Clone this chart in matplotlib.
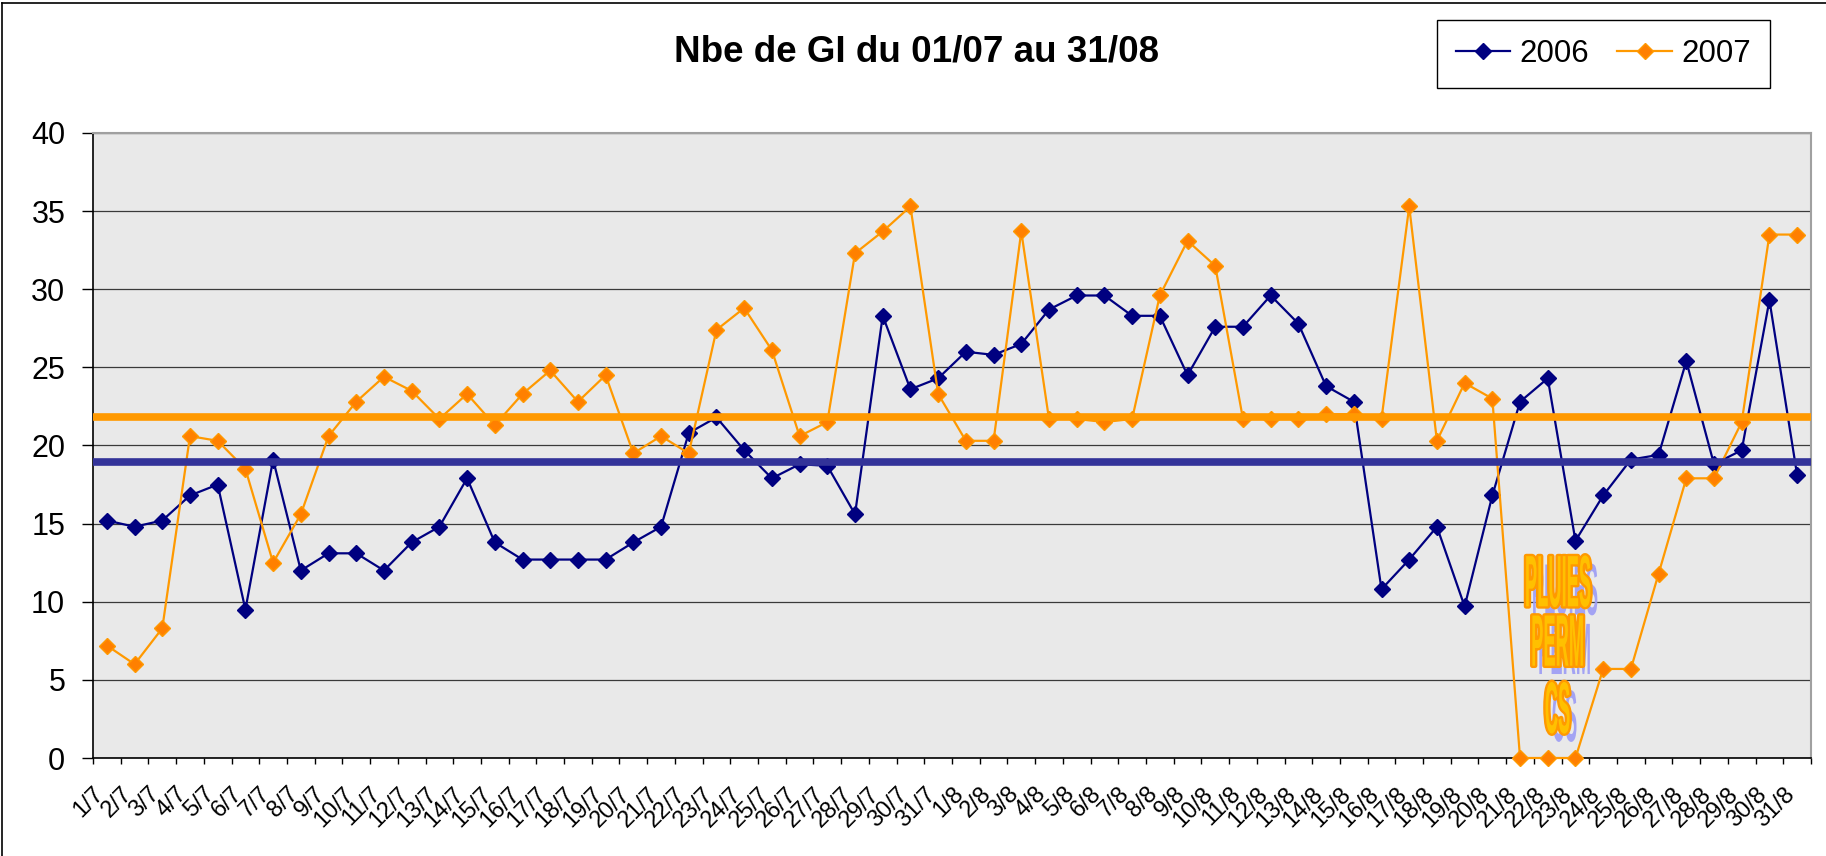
import numpy as np
import matplotlib
matplotlib.use('Agg')
import matplotlib.pyplot as plt
from matplotlib import patheffects as pe
from matplotlib.transforms import Affine2D
from matplotlib.lines import Line2D

plt.rcParams['font.family'] = ['Liberation Sans', 'DejaVu Sans']

# ---------------- data ----------------
days = [f"{d}/7" for d in range(1, 32)] + [f"{d}/8" for d in range(1, 32)]

nb_2006 = [15.2, 14.8, 15.2, 16.8, 17.5, 9.5, 19.1, 12.0, 13.1, 13.1,
           12.0, 13.8, 14.8, 17.9, 13.8, 12.7, 12.7, 12.7, 12.7, 13.8,
           14.8, 20.8, 21.8, 19.7, 17.9, 18.8, 18.7, 15.6, 28.3, 23.6,
           24.3,
           26.0, 25.8, 26.5, 28.7, 29.6, 29.6, 28.3, 28.3, 24.5, 27.6,
           27.6, 29.6, 27.8, 23.8, 22.8, 10.8, 12.7, 14.8, 9.7, 16.8,
           22.8, 24.3, 13.9, 16.8, 19.1, 19.4, 25.4, 18.8, 19.7, 29.3,
           18.1]

nb_2007 = [7.2, 6.0, 8.3, 20.6, 20.3, 18.5, 12.5, 15.6, 20.6, 22.8,
           24.4, 23.5, 21.7, 23.3, 21.3, 23.3, 24.8, 22.8, 24.5, 19.5,
           20.6, 19.5, 27.4, 28.8, 26.1, 20.6, 21.5, 32.3, 33.7, 35.3,
           23.3,
           20.3, 20.3, 33.7, 21.7, 21.7, 21.5, 21.7, 29.6, 33.1, 31.5,
           21.7, 21.7, 21.7, 22.0, 22.0, 21.7, 35.3, 20.3, 24.0, 23.0,
           0.0, 0.0, 0.0, 5.7, 5.7, 11.8, 17.9, 17.9, 21.5, 33.5,
           33.5]

avg_2006 = 18.93
avg_2007 = 21.85

series_names = ["2006", "2007"]
title = "Nbe de GI du 01/07 au 31/08"
annotation_lines = ["PLUIES", "PERM", "CS"]
annotation_y = [11.1, 7.3, 3.0]
annotation_x = 52.35
y_ticks = [0, 5, 10, 15, 20, 25, 30, 35, 40]

# ---------------- figure ----------------
W, H = 1826, 856
fig = plt.figure(figsize=(W / 100, H / 100), dpi=100)
fig.patch.set_facecolor('white')
ax = fig.add_axes([93 / W, 1 - 758 / H, (1811 - 93) / W, (758 - 133) / H])
ax.set_facecolor('#e9e9e9')

x = np.arange(len(days))
l06, = ax.plot(x, nb_2006, color='#000080', lw=1.6, marker='D', ms=8,
               mfc='#000080', mec='#000080', zorder=3, clip_on=False,
               label=series_names[0])
l07, = ax.plot(x, nb_2007, color='#FF9900', lw=1.6, marker='D', ms=8,
               mfc='#FF8000', mec='#FF9900', zorder=3, clip_on=False,
               label=series_names[1])
ax.axhline(avg_2006, color='#333399', lw=5.5, zorder=4)
ax.axhline(avg_2007, color='#FF9900', lw=5.5, zorder=4)

ax.set_xlim(-0.5, len(days) - 0.5)
ax.set_ylim(0, 40)
ax.set_yticks(y_ticks)
ax.yaxis.grid(True, color='#3a3a3a', lw=0.9)
ax.set_axisbelow(True)
ax.tick_params(axis='y', length=8, width=1, pad=12, labelsize=22,
               direction='out', colors='black')

# category boundaries as major ticks, labels as minor ticks
ax.xaxis.remove_overlapping_locs = False
ax.set_xticks(np.arange(-0.5, len(days), 1.0))
ax.set_xticklabels([])
ax.tick_params(axis='x', which='major', length=4, width=1, direction='out')
ax.set_xticks(x - 0.5, minor=True)
ax.set_xticklabels(days, minor=True, rotation=45, ha='right', va='top',
                   rotation_mode='anchor', fontsize=17)
ax.tick_params(axis='x', which='minor', length=0, pad=18)

for s in ['left', 'bottom']:
    ax.spines[s].set_color('black')
    ax.spines[s].set_linewidth(1.2)
for s in ['top', 'right']:
    ax.spines[s].set_color('#a0a0a0')
    ax.spines[s].set_linewidth(1.5)

# legend
leg = ax.legend(handles=[l06, l07], loc='upper right',
                bbox_to_anchor=(1770 / W, 1 - 20 / H),
                bbox_transform=fig.transFigure, ncol=2, fontsize=22.5,
                frameon=True, fancybox=False, edgecolor='black',
                framealpha=1, borderaxespad=0, handlelength=1.75,
                handletextpad=0.3, columnspacing=0.9, borderpad=0.6)
leg.get_frame().set_linewidth(1.0)
for t in leg.get_texts():
    t.set_x(0)

# title
fig.text(916 / W, 1 - 62 / H, title, ha='center', va='baseline',
         fontsize=26.5, fontweight='bold', color='black')

# outer chart frame (left and top visible)
fig.add_artist(Line2D([2 / W, 2 / W], [0, 1 - 3 / H], transform=fig.transFigure,
                      color='black', lw=1.2))
fig.add_artist(Line2D([2 / W, 1], [1 - 3 / H, 1 - 3 / H], transform=fig.transFigure,
                      color='black', lw=1.2))


# WordArt-like condensed annotation text
class Squeeze(pe.AbstractPathEffect):
    def __init__(self, sx, sy, effects):
        super().__init__()
        self.sx, self.sy, self.effects = sx, sy, effects

    def draw_path(self, renderer, gc, tpath, affine, rgbFace=None):
        ext = tpath.get_extents()
        cx = 0.5 * (ext.x0 + ext.x1)
        cy = 0.5 * (ext.y0 + ext.y1)
        pre = Affine2D().translate(-cx, -cy).scale(self.sx, self.sy).translate(cx, cy)
        for e in self.effects:
            e.draw_path(renderer, gc, tpath, pre + affine, rgbFace)


effects = [Squeeze(0.44, 1.75, [
    pe.SimplePatchShadow(offset=(5, -6), shadow_rgbFace='#9C9CF5', alpha=0.9),
    pe.Stroke(linewidth=3.4, foreground='#FF9900'),
    pe.Normal()])]
for txt, yy in zip(annotation_lines, annotation_y):
    ax.text(annotation_x, yy, txt, ha='center', va='center', fontsize=30,
            fontweight='bold', color='#FFC000', path_effects=effects, zorder=6)

fig.savefig('out.png', dpi=100)
